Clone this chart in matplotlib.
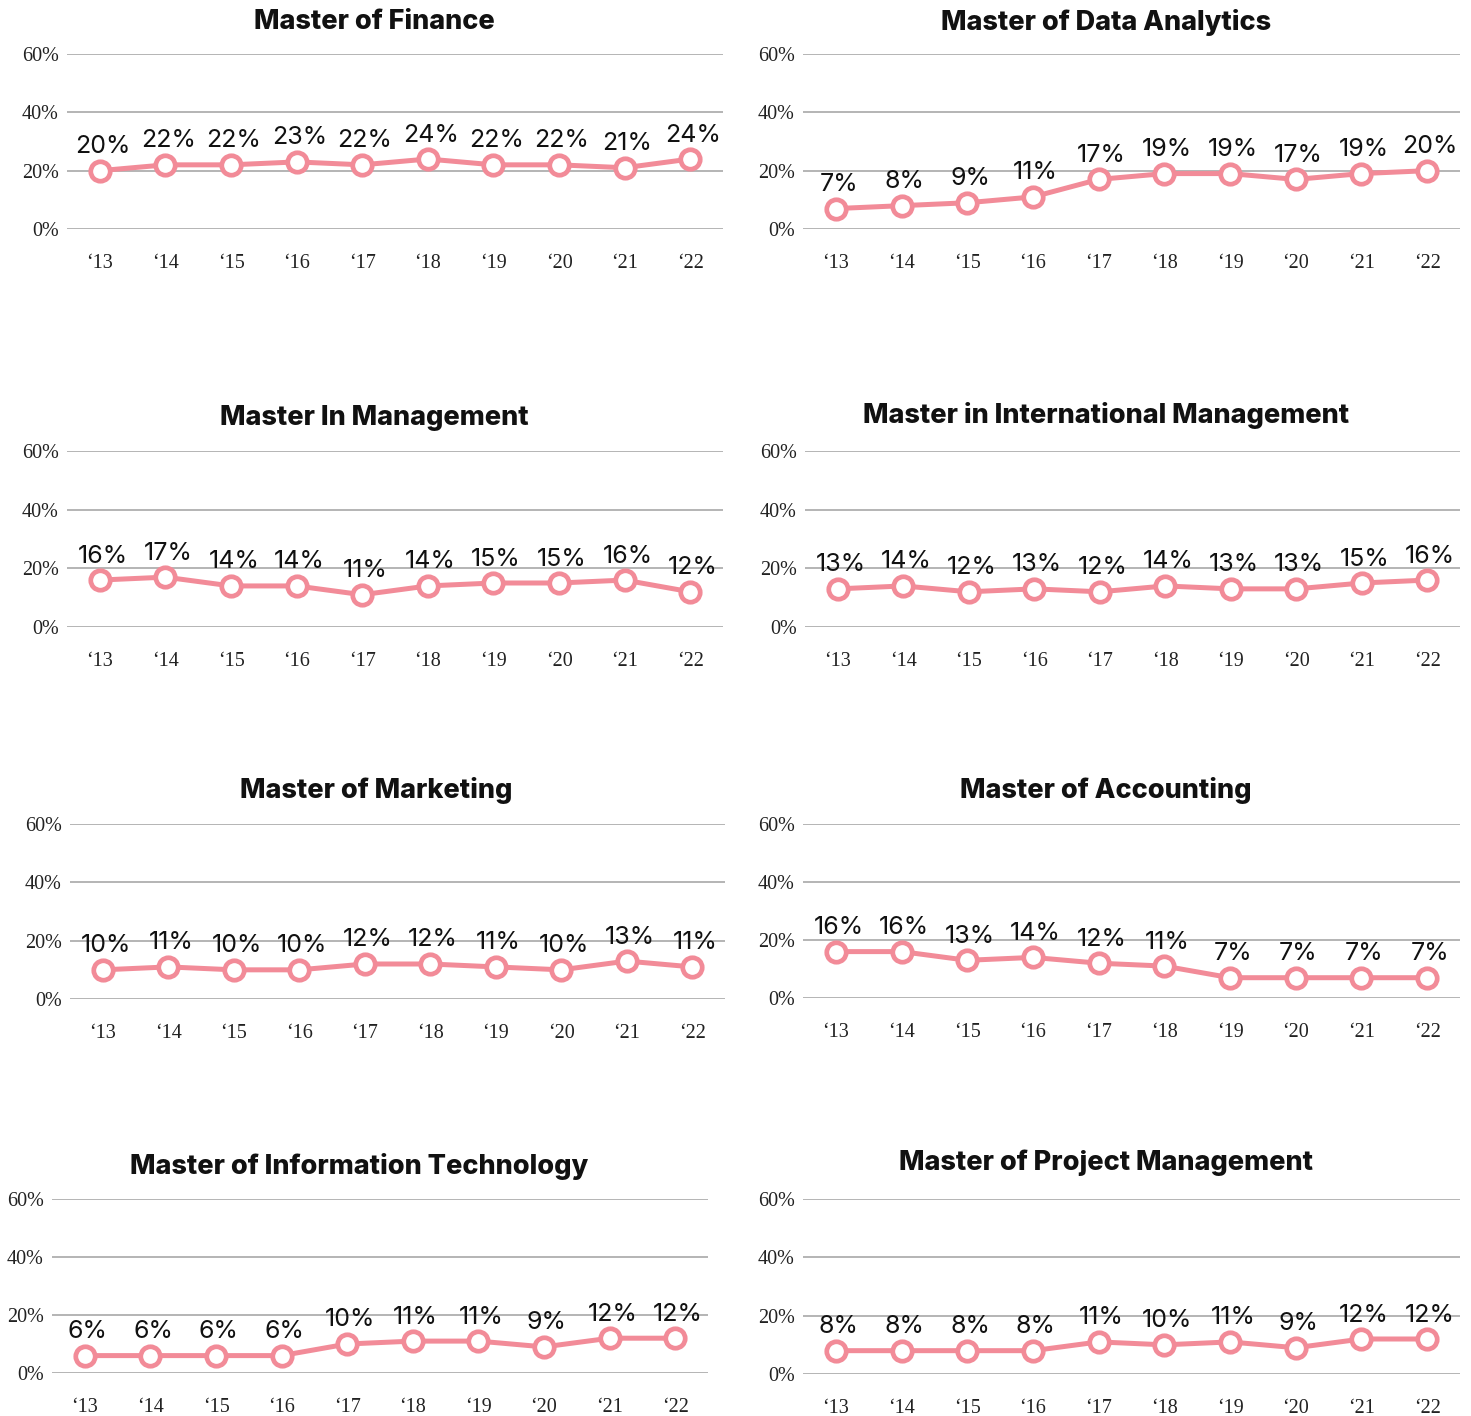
import matplotlib
matplotlib.use('Agg')
import matplotlib.pyplot as plt

years = ['\u201813', '\u201814', '\u201815', '\u201816', '\u201817',
         '\u201818', '\u201819', '\u201820', '\u201821', '\u201822']

finance = [20, 22, 22, 23, 22, 24, 22, 22, 21, 24]
data_analytics = [7, 8, 9, 11, 17, 19, 19, 17, 19, 20]
management = [16, 17, 14, 14, 11, 14, 15, 15, 16, 12]
intl_management = [13, 14, 12, 13, 12, 14, 13, 13, 15, 16]
marketing = [10, 11, 10, 10, 12, 12, 11, 10, 13, 11]
accounting = [16, 16, 13, 14, 12, 11, 7, 7, 7, 7]
info_tech = [6, 6, 6, 6, 10, 11, 11, 9, 12, 12]
project_mgmt = [8, 8, 8, 8, 11, 10, 11, 9, 12, 12]

titles = ['Master of Finance', 'Master of Data Analytics',
          'Master In Management', 'Master in International Management',
          'Master of Marketing', 'Master of Accounting',
          'Master of Information Technology', 'Master of Project Management']
series = [finance, data_analytics, management, intl_management,
          marketing, accounting, info_tech, project_mgmt]

W, H = 1471, 1416
# axes boxes in pixels: left, right, y of 60% line, y of 0% line, title x, title y
boxes = [(67, 723, 54, 229, 374, 22), (803, 1460, 54, 229, 1106, 22),
         (67, 723, 451, 627, 374, 418), (805, 1460, 451, 627, 1106, 416),
         (70, 725, 824, 999, 376, 791), (803, 1460, 824, 998, 1106, 791),
         (52, 708, 1199, 1373, 359, 1166), (803, 1460, 1199, 1374, 1106, 1163)]

pink = '#F28B98'
grid_col = '#A8A8A8'

fig = plt.figure(figsize=(W / 100, H / 100), dpi=100)

for (x0, x1, ytop, ybot, tx, ty), title, vals in zip(boxes, titles, series):
    ax = fig.add_axes([x0 / W, 1 - ybot / H, (x1 - x0) / W, (ybot - ytop) / H])
    xs = list(range(len(vals)))
    ax.plot(xs, vals, color=pink, lw=3.6, marker='o', ms=14,
            mfc='white', mec=pink, mew=3.4, zorder=3, clip_on=False)
    for x, v in zip(xs, vals):
        ax.annotate(f'{v}%', (x, v), xytext=(2, 9), textcoords='offset points',
                    ha='center', va='bottom', fontsize=18, family='Inter',
                    color='#111111')
    ax.set_xlim(-0.5, len(vals) - 0.5)
    ax.set_ylim(0, 60)
    ax.set_yticks([0, 20, 40, 60])
    ax.set_yticklabels(['0%', '20%', '40%', '60%'])
    ax.set_xticks(xs)
    ax.set_xticklabels(years)
    ax.grid(axis='y', color=grid_col, lw=1.2)
    ax.set_axisbelow(True)
    for s in ax.spines.values():
        s.set_visible(False)
    ax.tick_params(length=0, colors='#222222')
    ax.tick_params(axis='x', pad=18)
    ax.tick_params(axis='y', pad=6)
    for lab in ax.get_xticklabels() + ax.get_yticklabels():
        lab.set_family('Liberation Serif')
        lab.set_fontsize(14.5)
    fig.text(tx / W, 1 - ty / H, title, fontsize=19.5, fontweight='heavy',
             family='Inter', ha='center', va='center', color='#111111')

plt.savefig('out.png', dpi=100)
